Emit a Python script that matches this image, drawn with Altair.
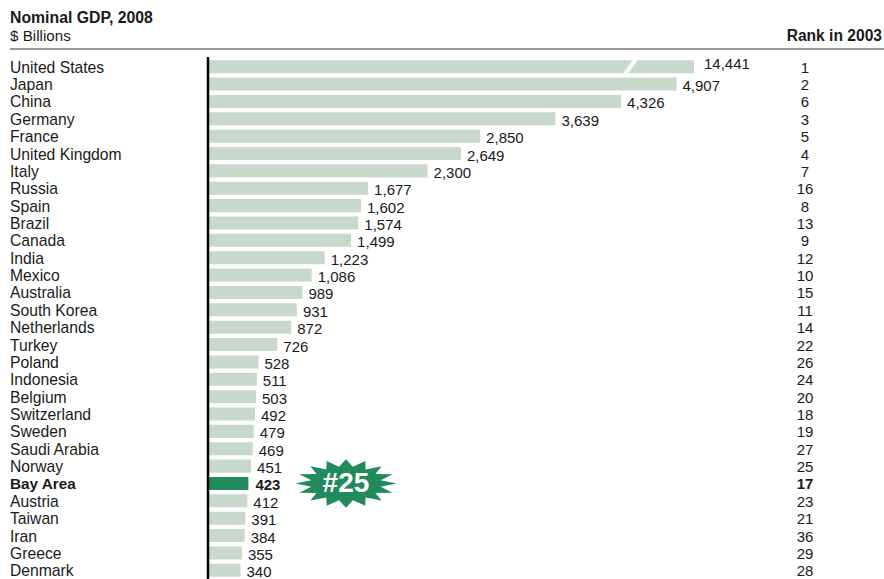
import math
import altair as alt
import pandas as pd

countries = ["United States", "Japan", "China", "Germany", "France", "United Kingdom", "Italy",
             "Russia", "Spain", "Brazil", "Canada", "India", "Mexico", "Australia", "South Korea",
             "Netherlands", "Turkey", "Poland", "Indonesia", "Belgium", "Switzerland", "Sweden",
             "Saudi Arabia", "Norway", "Bay Area", "Austria", "Taiwan", "Iran", "Greece", "Denmark"]
gdp = [14441, 4907, 4326, 3639, 2850, 2649, 2300, 1677, 1602, 1574, 1499, 1223, 1086, 989, 931,
       872, 726, 528, 511, 503, 492, 479, 469, 451, 423, 412, 391, 384, 355, 340]
rank2003 = [1, 2, 6, 3, 5, 4, 7, 16, 8, 13, 9, 12, 10, 15, 11, 14, 22, 26, 24, 20, 18, 19, 27, 25,
            17, 23, 21, 36, 29, 28]
highlight = "Bay Area"
highlight_rank_label = "#25"
bar_cap = 5090  # bars longer than this are drawn broken

LIGHT = "#c8d9cc"
DARK = "#218b5d"
TXT = "#1a1a1a"
FONT = "Liberation Sans"
FS = 15
FS_NAME = 15.7

df = pd.DataFrame({"country": countries, "gdp": gdp, "rank": rank2003})
df["shown"] = df["gdp"].clip(upper=bar_cap)
df["broken"] = (df["gdp"] > bar_cap).astype(int)
df["hl"] = (df["country"] == highlight).astype(int)
df["slash_x"] = 4425
df["star_x"] = 1445
df["star_label"] = highlight_rank_label

W, H = 676, 521
yscale = alt.Scale(domain=countries, paddingInner=0.25, paddingOuter=0.125)
xscale = alt.Scale(domain=[0, 7080])
Y = alt.Y("country:N", sort=None, scale=yscale, axis=None)
X = alt.X("shown:Q", scale=xscale, axis=None)

base = alt.Chart(df).encode(y=Y)

bars = base.mark_bar().encode(
    x=X,
    color=alt.condition("datum.hl == 1", alt.value(DARK), alt.value(LIGHT)),
)

def txt(size=FS, **kw):
    return dict(font=FONT, fontSize=size, color=TXT, **kw)

names = base.mark_text(**txt(FS_NAME, align="left", baseline="middle", x=-198, dy=1)).encode(text="country:N").transform_filter("datum.hl == 0")
names_b = base.mark_text(**txt(FS_NAME - 0.4, align="left", baseline="middle", x=-198, dy=1, fontWeight="bold")).encode(text="country:N").transform_filter("datum.hl == 1")

vals = base.mark_text(**txt(align="left", baseline="middle", dx=6, dy=2)).encode(
    x=X, text=alt.Text("gdp:Q", format=",")).transform_filter("datum.hl == 0 && datum.broken == 0")
vals_b = base.mark_text(**txt(align="left", baseline="middle", dx=7, dy=2, fontWeight="bold")).encode(
    x=X, text=alt.Text("gdp:Q", format=",")).transform_filter("datum.hl == 1")
vals_broken = base.mark_text(**txt(align="left", baseline="middle", dx=10, dy=-3)).encode(
    x=X, text=alt.Text("gdp:Q", format=",")).transform_filter("datum.broken == 1")

ranks = base.mark_text(**txt(align="center", baseline="middle", x=597, dy=1)).encode(text="rank:Q").transform_filter("datum.hl == 0")
ranks_b = base.mark_text(**txt(align="center", baseline="middle", x=597, dy=1, fontWeight="bold")).encode(text="rank:Q").transform_filter("datum.hl == 1")

# break slash on truncated bar
slash_path = "M 0.45 -1 L 1 -1 L -0.45 1 L -1 1 Z"
slash = base.mark_point(shape=slash_path, filled=True, fill="white", size=324, strokeWidth=0, opacity=1).encode(
    x=alt.X("slash_x:Q", scale=xscale, axis=None)).transform_filter("datum.broken == 1")

# starburst
n = 16
pts = []
for i in range(2 * n):
    a = math.pi * i / n
    r = 1.0 if i % 2 == 0 else 0.7
    pts.append((r * math.cos(a), 0.48 * r * math.sin(a)))
star_path = "M " + " L ".join(f"{px:.3f} {py:.3f}" for px, py in pts) + " Z"
star = base.mark_point(shape=star_path, filled=True, fill=DARK, size=10200, strokeWidth=0, opacity=1).encode(
    x=alt.X("star_x:Q", scale=xscale, axis=None)).transform_filter("datum.hl == 1")
star_txt = base.mark_text(font=FONT, fontSize=28, fontWeight="bold", color="white", align="center",
                          baseline="middle", dy=1).encode(
    x=alt.X("star_x:Q", scale=xscale, axis=None), text="star_label:N").transform_filter("datum.hl == 1")

one = alt.Chart(df).transform_filter("datum.hl == 1")
axis_line = one.mark_rule(color="black", strokeWidth=2.5).encode(
    x=alt.value(0), y=alt.value(-1), y2=alt.value(H))
header_line = one.mark_rule(color="#333333", strokeWidth=1.2).encode(
    x=alt.value(-198), x2=alt.value(W), y=alt.value(-9))

title = one.mark_text(font=FONT, fontSize=15.8, fontWeight="bold", color=TXT, align="left", baseline="middle",
                      text="Nominal GDP, 2008").encode(x=alt.value(-198), y=alt.value(-40))
subtitle = one.mark_text(font=FONT, fontSize=15.2, color=TXT, align="left", baseline="middle",
                         text="$ Billions").encode(x=alt.value(-198), y=alt.value(-22))
rank_head = one.mark_text(font=FONT, fontSize=15.6, fontWeight="bold", color=TXT, align="right", baseline="middle",
                          text="Rank in 2003").encode(x=alt.value(674), y=alt.value(-22))

chart = alt.layer(
    bars, slash, axis_line, header_line, names, names_b, vals, vals_b, vals_broken,
    ranks, ranks_b, star, star_txt, title, subtitle, rank_head
).properties(
    width=W, height=H,
    padding={"left": 208, "top": 58, "right": 0, "bottom": 0},
    autosize=alt.AutoSizeParams(type="none"),
    background="white",
).configure_view(stroke=None)

chart.save("out.html", embed_options={"renderer": "svg", "actions": False})
